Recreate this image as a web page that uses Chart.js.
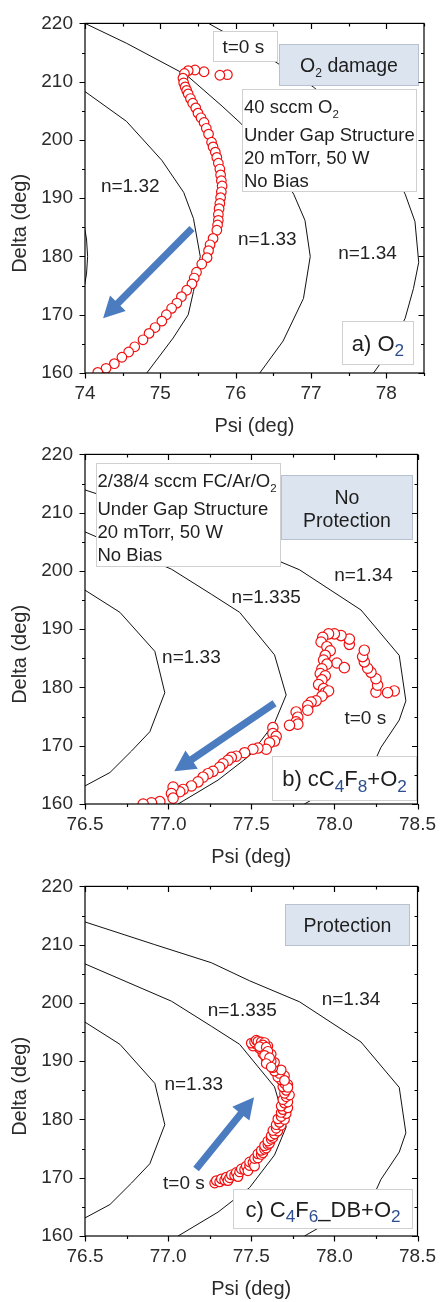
<!DOCTYPE html>
<html>
<head>
<meta charset="utf-8">
<title>Psi-Delta trajectories</title>
<script src="https://cdn.jsdelivr.net/npm/chart.js@4.4.1/dist/chart.umd.min.js"></script>
<style>
  html, body { margin: 0; padding: 0; background: #fff; }
  body { position: relative; width: 445px; height: 1302px; overflow: hidden; }
  .panel { position: absolute; left: 0; width: 445px; height: 445px; }
</style>
</head>
<body>
<div class="panel" style="top:0px"><canvas id="panelA" width="445" height="445"></canvas></div>
<div class="panel" style="top:431px"><canvas id="panelB" width="445" height="445"></canvas></div>
<div class="panel" style="top:863px"><canvas id="panelC" width="445" height="445"></canvas></div>
<script>
var FONT = '"Liberation Sans", Arial, Helvetica, sans-serif';

// ellipsometry trajectories, [Psi, Delta] in degrees, from t=0 s onwards
var traceA = [
  [75.89, 211.2], [75.79, 211.1], [75.58, 211.7], [75.46, 212.0], [75.37, 211.9], [75.32, 211.4],
  [75.30, 210.6], [75.31, 209.8], [75.33, 209.1], [75.35, 208.5], [75.37, 207.9], [75.40, 207.1],
  [75.43, 206.3], [75.47, 205.5], [75.50, 204.6], [75.54, 203.8], [75.58, 203.0], [75.61, 202.0],
  [75.64, 201.0], [75.68, 199.6], [75.70, 198.8], [75.73, 197.9], [75.75, 197.0], [75.77, 196.0],
  [75.79, 195.0], [75.80, 194.0], [75.81, 193.0], [75.82, 192.1], [75.81, 191.1], [75.80, 190.1],
  [75.79, 189.1], [75.78, 188.2], [75.77, 187.2], [75.77, 186.2], [75.76, 185.4], [75.75, 184.5],
  [75.70, 183.1], [75.66, 182.0], [75.64, 181.0], [75.62, 179.8], [75.55, 178.7], [75.48, 177.3],
  [75.45, 176.3], [75.42, 175.3], [75.35, 174.2], [75.28, 173.1], [75.22, 172.0], [75.15, 171.1],
  [75.08, 170.0], [75.02, 168.9], [74.93, 167.8], [74.85, 166.8], [74.77, 165.7], [74.66, 164.5],
  [74.58, 163.6], [74.49, 162.7], [74.39, 161.6], [74.28, 160.8], [74.17, 160.1]
];
var traceB = [
  [78.36, 179.4], [78.32, 179.1], [78.25, 179.2], [78.26, 180.4], [78.25, 181.5], [78.22, 182.6],
  [78.20, 183.3], [78.18, 184.4], [78.17, 185.3], [78.18, 186.4], [78.09, 187.4], [78.09, 188.3],
  [78.04, 188.9], [78.00, 189.2], [77.965, 189.2], [77.93, 188.6], [77.92, 187.8], [77.955, 187.0],
  [77.975, 186.3], [77.945, 185.5], [77.935, 184.7], [78.015, 184.2], [78.06, 183.4], [77.955, 184.0],
  [77.925, 183.2], [77.915, 182.4], [77.945, 182.0], [77.925, 181.3], [77.905, 180.5], [77.935, 179.8],
  [77.945, 179.1], [77.965, 179.4], [77.925, 178.5], [77.89, 177.7], [77.86, 177.5], [77.84, 176.9],
  [77.84, 176.1], [77.77, 175.8], [77.78, 174.9], [77.77, 174.1], [77.78, 173.7], [77.73, 173.5],
  [77.63, 173.1], [77.63, 172.1], [77.65, 171.6], [77.64, 170.8], [77.61, 170.5], [77.59, 169.4],
  [77.54, 169.6], [77.51, 169.4], [77.46, 168.8], [77.41, 168.2], [77.38, 168.0], [77.36, 167.5],
  [77.33, 166.9], [77.31, 166.3], [77.27, 165.6], [77.24, 165.2], [77.21, 164.6], [77.18, 163.8],
  [77.14, 163.1], [77.09, 162.5], [77.07, 162.1], [77.03, 162.9], [77.02, 161.8], [77.03, 161.0],
  [76.95, 160.4], [76.90, 160.2], [76.85, 160.0]
];
var traceC = [
  [77.28, 169.1], [77.29, 169.5], [77.31, 169.3], [77.32, 169.8], [77.34, 169.6], [77.35, 170.1],
  [77.36, 169.5], [77.37, 170.0], [77.38, 170.5], [77.40, 170.4], [77.41, 170.9], [77.42, 170.2],
  [77.43, 171.0], [77.44, 171.5], [77.46, 171.4], [77.47, 172.0], [77.48, 171.2], [77.49, 172.1],
  [77.49, 172.7], [77.51, 172.6], [77.52, 172.0], [77.52, 173.3], [77.54, 173.4], [77.54, 174.1],
  [77.56, 174.0], [77.57, 174.3], [77.56, 174.7], [77.58, 174.9], [77.59, 175.1], [77.58, 175.5],
  [77.60, 175.7], [77.61, 175.9], [77.60, 176.3], [77.62, 176.6], [77.63, 176.9], [77.62, 177.2],
  [77.64, 177.5], [77.66, 178.0], [77.63, 178.1], [77.65, 178.5], [77.68, 179.0], [77.65, 179.1],
  [77.67, 179.5], [77.70, 180.0], [77.66, 180.1], [77.68, 180.5], [77.71, 181.0], [77.68, 181.2],
  [77.69, 181.7], [77.72, 182.0], [77.68, 182.3], [77.70, 182.8], [77.72, 183.0], [77.69, 183.4],
  [77.71, 183.9], [77.73, 184.2], [77.70, 184.5], [77.71, 185.0], [77.69, 185.6], [77.72, 186.0],
  [77.70, 186.2], [77.68, 186.8], [77.66, 187.3], [77.70, 187.5], [77.67, 187.9], [77.64, 188.3],
  [77.68, 188.5], [77.63, 188.9], [77.61, 189.4], [77.64, 189.8], [77.62, 190.0], [77.59, 190.4],
  [77.60, 191.0], [77.62, 191.2], [77.57, 191.3], [77.58, 191.9], [77.55, 192.2], [77.60, 192.6],
  [77.56, 192.7], [77.51, 192.6], [77.53, 192.9], [77.50, 193.1], [77.52, 193.3], [77.53, 193.6],
  [77.54, 193.4], [77.56, 193.3], [77.58, 193.2], [77.57, 192.8], [77.55, 192.5], [77.59, 192.4],
  [77.60, 191.7], [77.58, 191.0], [77.61, 190.6], [77.59, 189.6], [77.62, 189.0], [77.72, 185.5],
  [77.70, 186.7]
];

// constant-index contours of the model, [Psi, Delta]
var lineA131 = [[73.98, 186.0], [74.02, 183.0], [74.035, 180.0], [74.02, 177.0], [73.98, 174.0]];
var lineA132 = [[74.0, 208.3], [74.55, 203.2], [75.02, 196.5], [75.31, 191.0], [75.44, 186.5],
  [75.53, 180.0], [75.44, 174.0], [75.37, 170.0], [75.17, 166.0], [74.82, 160.0]];
var lineA133 = [[74.0, 220.0], [74.55, 216.6], [75.35, 211.1], [75.82, 205.8], [76.08, 202.7],
  [76.45, 197.0], [76.77, 190.7], [76.92, 186.2], [76.99, 180.0], [76.90, 172.8], [76.63, 165.5],
  [76.32, 160.0]];
var lineA134 = [[75.64, 220.0], [76.40, 214.5], [77.03, 209.1], [77.60, 203.0], [78.00, 197.0],
  [78.25, 190.7], [78.38, 186.0], [78.43, 179.0], [78.36, 174.5], [78.25, 169.4], [78.05, 164.0],
  [77.83, 160.0]];
var lineBC133 = [[76.5, 196.7], [76.71, 192.9], [76.92, 186.2], [76.98, 179.1], [76.89, 172.4],
  [76.78, 169.1], [76.65, 165.4], [76.5, 163.1]];
var lineBC1335 = [[76.5, 206.7], [77.02, 200.3], [77.26, 196.0], [77.43, 192.9], [77.64, 185.6],
  [77.71, 178.7], [77.64, 173.9], [77.49, 168.3], [77.30, 164.1], [77.06, 160.0]];
var lineBC134 = [[76.5, 213.9], [76.92, 210.0], [77.26, 206.9], [77.49, 203.8], [77.79, 200.2],
  [78.16, 193.3], [78.39, 185.5], [78.43, 177.7], [78.39, 174.4], [78.28, 169.7], [78.24, 167.2],
  [77.90, 161.3], [77.82, 160.0]];

var psiTicksA = [74, 75, 76, 77, 78];
var psiTicksBC = [76.5, 77.0, 77.5, 78.0, 78.5];
var deltaTicks = [160, 170, 180, 190, 200, 210, 220];

function xy(pts) {
  return pts.map(function (p) { return { x: p[0], y: p[1] }; });
}

function contour(pts) {
  return {
    data: xy(pts), showLine: true, borderColor: '#111', borderWidth: 1,
    pointRadius: 0, pointHoverRadius: 0, order: 2
  };
}

function trace(pts, r) {
  return {
    data: xy(pts), showLine: false, pointStyle: 'circle', pointRadius: r,
    pointBorderWidth: 1.2, pointBorderColor: '#f01010', pointBackgroundColor: '#fff',
    borderColor: '#f01010', backgroundColor: '#fff', order: 1
  };
}

// "O{2}" -> O with subscript 2
function richParts(str) {
  var parts = [];
  str.split(/(\{[^}]*\})/).forEach(function (s) {
    if (!s) return;
    if (s.charAt(0) === '{') parts.push({ t: s.slice(1, -1), sub: true });
    else parts.push({ t: s, sub: false });
  });
  return parts;
}

function drawRich(ctx, str, x, cy, st) {
  var parts = richParts(str);
  var size = st.size || 19;
  var main = size + 'px ' + FONT;
  var sub = (size * (st.subScale || 0.62)).toFixed(1) + 'px ' + FONT;
  var total = 0;
  parts.forEach(function (p) {
    ctx.font = p.sub ? sub : main;
    p.w = ctx.measureText(p.t).width;
    total += p.w;
  });
  var cx = st.align === 'center' ? x - total / 2 : x;
  var base = cy + size * 0.36;
  ctx.textAlign = 'left';
  ctx.textBaseline = 'alphabetic';
  parts.forEach(function (p) {
    ctx.font = p.sub ? sub : main;
    ctx.fillStyle = (p.sub && st.subColor) ? st.subColor : (st.color || '#1e1e1e');
    ctx.fillText(p.t, cx, p.sub ? base + size * 0.25 : base);
    cx += p.w;
  });
}

function drawArrow(ctx, x0, y0, x1, y1) {
  var ang = Math.atan2(y1 - y0, x1 - x0);
  var len = Math.hypot(x1 - x0, y1 - y0);
  var hw = 3.6, hl = 21, hh = 11;
  ctx.save();
  ctx.translate(x0, y0);
  ctx.rotate(ang);
  ctx.beginPath();
  ctx.moveTo(0, -hw);
  ctx.lineTo(len - hl, -hw);
  ctx.lineTo(len - hl, -hh);
  ctx.lineTo(len, 0);
  ctx.lineTo(len - hl, hh);
  ctx.lineTo(len - hl, hw);
  ctx.lineTo(0, hw);
  ctx.closePath();
  ctx.fillStyle = '#4a7cbf';
  ctx.fill();
  ctx.restore();
}

// text boxes, index labels and arrows, placed in data coordinates
function notesPlugin(notes) {
  return {
    id: 'notes',
    afterDatasetsDraw: function (chart) {
      var ctx = chart.ctx, sx = chart.scales.x, sy = chart.scales.y;
      ctx.save();
      (notes.arrows || []).forEach(function (a) {
        drawArrow(ctx, sx.getPixelForValue(a.from[0]), sy.getPixelForValue(a.from[1]),
          sx.getPixelForValue(a.to[0]), sy.getPixelForValue(a.to[1]));
      });
      (notes.boxes || []).forEach(function (b) {
        var l = Math.round(sx.getPixelForValue(b.x[0])) + 0.5;
        var r = Math.round(sx.getPixelForValue(b.x[1])) + 0.5;
        var t = Math.round(sy.getPixelForValue(b.y[0])) + 0.5;
        var btm = Math.round(sy.getPixelForValue(b.y[1])) + 0.5;
        ctx.fillStyle = b.fill || '#fff';
        ctx.fillRect(l, t, r - l, btm - t);
        ctx.strokeStyle = b.stroke || '#d0d0d0';
        ctx.lineWidth = 1;
        ctx.strokeRect(l, t, r - l, btm - t);
        var tx = b.align === 'center' ? (l + r) / 2 : l + (b.pad || 2);
        b.lines.forEach(function (line, i) {
          var cy = b.offsets ? t + b.offsets[i] : (t + btm) / 2;
          drawRich(ctx, line, tx, cy, b);
        });
      });
      (notes.labels || []).forEach(function (lb) {
        drawRich(ctx, lb.text, sx.getPixelForValue(lb.x), sy.getPixelForValue(lb.y),
          { size: 19, align: 'center', color: '#222' });
      });
      ctx.restore();
    }
  };
}

function minorOf(ticks, min, max) {
  var out = [];
  var step = ticks[1] - ticks[0];
  var first = ticks[0] - step / 2;
  for (var v = first; v <= max + 1e-9; v += step) {
    if (v >= min - 1e-9) out.push(v);
  }
  return out;
}

// box frame, outward ticks left/bottom, mirrored inward ticks top/right, y title
function framePlugin(xTicks, xMin, xMax) {
  return {
    id: 'frame',
    afterDraw: function (chart) {
      var ctx = chart.ctx, a = chart.chartArea, sx = chart.scales.x, sy = chart.scales.y;
      var major = 5.5, minor = 3;
      ctx.save();
      ctx.strokeStyle = '#000';
      ctx.lineWidth = 1.2;
      ctx.strokeRect(a.left, a.top, a.right - a.left, a.bottom - a.top);
      ctx.beginPath();
      function xTick(v, len) {
        var p = Math.round(sx.getPixelForValue(v)) + 0.5;
        ctx.moveTo(p, a.bottom); ctx.lineTo(p, a.bottom + len);
        ctx.moveTo(p, a.top); ctx.lineTo(p, a.top + len);
      }
      function yTick(v, len) {
        var p = Math.round(sy.getPixelForValue(v)) + 0.5;
        ctx.moveTo(a.left - len, p); ctx.lineTo(a.left, p);
        ctx.moveTo(a.right - len, p); ctx.lineTo(a.right, p);
      }
      xTicks.forEach(function (v) { xTick(v, major); });
      minorOf(xTicks, xMin, xMax).forEach(function (v) { xTick(v, minor); });
      deltaTicks.forEach(function (v) { yTick(v, major); });
      minorOf(deltaTicks, 160, 220).forEach(function (v) { yTick(v, minor); });
      ctx.stroke();

      ctx.translate(20, a.top + 200);
      ctx.rotate(-Math.PI / 2);
      ctx.font = '20px ' + FONT;
      ctx.fillStyle = '#2b2b2b';
      ctx.textAlign = 'center';
      ctx.textBaseline = 'middle';
      ctx.fillText('Delta (deg)', 0, 0);
      ctx.restore();
    }
  };
}

function makePanel(id, datasets, xTicks, xMin, xMax, digits, notes) {
  var tickFont = { family: FONT, size: 19 };
  return new Chart(document.getElementById(id), {
    type: 'scatter',
    data: { datasets: datasets },
    options: {
      responsive: false,
      animation: false,
      events: [],
      layout: { padding: { top: 15, right: 21, bottom: 0, left: 0 } },
      plugins: { legend: { display: false }, tooltip: { enabled: false } },
      scales: {
        x: {
          type: 'linear', min: xMin, max: xMax,
          afterBuildTicks: function (s) { s.ticks = xTicks.map(function (v) { return { value: v }; }); },
          afterFit: function (s) { s.height = 72; },
          ticks: {
            font: tickFont, color: '#2b2b2b', padding: 9, maxRotation: 0, autoSkip: false,
            callback: function (v) { return Number(v).toFixed(digits); }
          },
          grid: { display: false, drawTicks: false },
          border: { display: false },
          title: {
            display: true, text: 'Psi (deg)', color: '#2b2b2b',
            font: { family: FONT, size: 20 }, padding: { top: 0, bottom: 7 }
          }
        },
        y: {
          type: 'linear', min: 160, max: 220,
          afterBuildTicks: function (s) { s.ticks = deltaTicks.map(function (v) { return { value: v }; }); },
          afterFit: function (s) { s.width = 85; },
          ticks: { font: tickFont, color: '#2b2b2b', padding: 12, autoSkip: false },
          grid: { display: false, drawTicks: false },
          border: { display: false }
        }
      }
    },
    plugins: [notesPlugin(notes), framePlugin(xTicks, xMin, xMax)]
  });
}

var paramOffsets = [17, 45, 68, 91];
var blueFill = '#dce4ef', blueEdge = '#b7c1d0';
var tagStyle = { size: 22, subScale: 0.78, subColor: '#2d4f8f', align: 'center' };

makePanel('panelA',
  [trace(traceA, 4.8), contour(lineA131), contour(lineA132), contour(lineA133), contour(lineA134)],
  psiTicksA, 74, 78.5, 0, {
    boxes: [
      { x: [75.695, 76.544], y: [218.7, 213.6], lines: ['t=0 s'], pad: 9, size: 19 },
      { x: [76.58, 78.42], y: [216.5, 209.4], fill: blueFill, stroke: blueEdge,
        lines: ['O{2} damage'], align: 'center', size: 19.5 },
      { x: [76.09, 78.40], y: [208.8, 191.2], lines: ['40 sccm O{2}', 'Under Gap Structure',
        '20 mTorr, 50 W', 'No Bias'], offsets: paramOffsets, pad: 1.5, size: 18.5 },
      Object.assign({ x: [77.41, 78.35], y: [169.0, 161.6], lines: ['a) O{2}'] }, tagStyle)
    ],
    labels: [
      { text: 'n=1.32', x: 74.6, y: 192.3 },
      { text: 'n=1.33', x: 76.42, y: 183.1 },
      { text: 'n=1.34', x: 77.75, y: 180.8 }
    ],
    arrows: [{ from: [75.42, 184.8], to: [74.24, 169.4] }]
  });

makePanel('panelB',
  [trace(traceB, 5.2), contour(lineBC133), contour(lineBC1335), contour(lineBC134)],
  psiTicksBC, 76.5, 78.5, 1, {
    boxes: [
      { x: [76.565, 77.67], y: [218.5, 200.9], lines: ['2/38/4 sccm FC/Ar/O{2}', 'Under Gap Structure',
        '20 mTorr, 50 W', 'No Bias'], offsets: paramOffsets, pad: 1, size: 18.5 },
      { x: [77.676, 78.466], y: [216.4, 205.4], fill: blueFill, stroke: blueEdge,
        lines: ['No', 'Protection'], offsets: [21, 44.4], align: 'center', size: 19.5 },
      Object.assign({ x: [77.627, 78.49], y: [168.2, 160.7], lines: ['b) cC{4}F{8}+O{2}'] }, tagStyle)
    ],
    labels: [
      { text: 'n=1.34', x: 78.175, y: 199.5 },
      { text: 'n=1.335', x: 77.59, y: 195.6 },
      { text: 'n=1.33', x: 77.14, y: 185.4 },
      { text: 't=0 s', x: 78.186, y: 174.9 }
    ],
    arrows: [{ from: [77.64, 177.3], to: [77.037, 165.6] }]
  });

makePanel('panelC',
  [trace(traceC, 4.8), contour(lineBC133), contour(lineBC1335), contour(lineBC134)],
  psiTicksBC, 76.5, 78.5, 1, {
    boxes: [
      { x: [77.70, 78.45], y: [216.9, 210.0], fill: blueFill, stroke: blueEdge,
        lines: ['Protection'], align: 'center', size: 19.5 },
      Object.assign({ x: [77.389, 78.466], y: [168.0, 161.3], lines: ['c) C{4}F{6}_DB+O{2}'] }, tagStyle)
    ],
    labels: [
      { text: 'n=1.34', x: 78.1, y: 200.9 },
      { text: 'n=1.335', x: 77.446, y: 199.0 },
      { text: 'n=1.33', x: 77.154, y: 186.2 },
      { text: 't=0 s', x: 77.095, y: 169.3 }
    ],
    arrows: [{ from: [77.168, 171.5], to: [77.517, 183.8] }]
  });
</script>
</body>
</html>
